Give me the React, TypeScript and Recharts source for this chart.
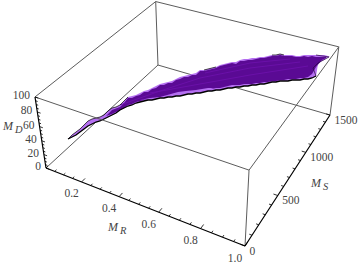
import { ComposedChart, Line, Area, XAxis, YAxis, ReferenceDot } from 'recharts';

// axis values
const mrMinor = [0, 0.05, 0.1, 0.15, 0.25, 0.3, 0.35, 0.45, 0.5, 0.55, 0.65, 0.7, 0.75, 0.85, 0.9, 0.95];
const mrMajor = [0.2, 0.4, 0.6, 0.8, 1];
const mrLabels = ['0.2', '0.4', '0.6', '0.8', '1.0'];
const msMinor = [100, 200, 300, 400, 600, 700, 800, 900, 1100, 1200, 1300, 1400];
const msMajor = [0, 500, 1000, 1500];
const msLabels = ['0', '500', '1000', '1500'];
const mdMinor = [5, 10, 15, 25, 30, 35, 45, 50, 55, 65, 70, 75, 85, 90, 95];
const mdMajor = [0, 20, 40, 60, 80, 100];
const mdLabels = ['0', '20', '40', '60', '80', '100'];

// outline of the surface as seen in the picture plane
const surfX = [68, 72, 76, 80, 84, 88, 92, 96, 100, 104, 108, 112, 116, 120, 124, 128, 132, 136, 140, 144, 148, 152, 156, 160, 164, 168, 172, 176, 180, 184, 188, 192, 196, 200, 204, 208, 212, 216, 220, 224, 228, 232, 236, 240, 244, 248, 252, 256, 260, 264, 268, 272, 276, 280, 284, 288, 292, 296, 300, 304, 308, 312, 316, 318, 320, 324, 328, 330];
const surfTop = [139, 135, 132, 129, 125, 121, 119, 118, 117, 115, 111, 108, 107, 105, 101, 97, 96, 95, 93, 91, 90, 88, 86, 84, 83, 82, 81, 79, 77, 76, 75, 74, 73, 70, 70, 69, 68, 67, 65, 64, 63, 62, 62, 60, 59, 59, 58, 58, 57, 57, 56, 55, 55, 54, 55, 55, 55, 56, 56, 55, 55, 55, 55, 55, 55, 55, 56, 56];
const surfBottom = [139, 137, 135, 132, 129, 126, 124, 122, 121, 119, 117, 115, 113, 110, 108, 106, 105, 103, 102, 101, 100, 100, 99, 98, 98, 97, 97, 96, 96, 95, 94, 94, 93, 93, 92, 91, 91, 90, 90, 89, 88, 88, 87, 87, 86, 86, 85, 85, 84, 84, 83, 82, 82, 81, 81, 81, 80, 80, 80, 79, 79, 78, 76, 64, 62, 60, 57, 56];

const darkX = [106, 112, 120, 124, 128, 132, 136, 140, 144, 148, 152, 156, 160, 164, 168, 172, 176, 180, 184, 188, 192, 196, 200, 204, 208, 212, 216, 220, 224, 228, 232, 236, 240, 244, 248, 252, 256, 260, 264, 268, 272, 276, 280, 284, 288, 292, 296, 300, 304, 308, 312, 316, 322, 326];
const darkTop = [116, 110, 107, 103, 98, 98, 96, 95, 92, 92, 89, 88, 85, 85, 83, 83, 80, 79, 77, 77, 75, 75, 71, 71, 70, 69, 68, 66, 65, 64, 63, 64, 61, 61, 60, 60, 59, 58, 58, 57, 56, 56, 55, 56, 56, 56, 57, 57, 56, 57, 56, 57, 57, 57];
const darkBottom = [116, 114, 110, 108, 105, 104, 102, 101, 100, 99, 98, 98, 97, 97, 96, 95, 93, 93, 92, 92, 92, 91, 91, 90, 89, 89, 88, 88, 87, 86, 85, 85, 85, 84, 84, 84, 83, 83, 82, 82, 81, 81, 80, 80, 79, 79, 79, 78, 78, 77, 74, 67, 60, 58];

const blotchX = [140, 150, 160, 178, 186, 196, 208, 214];
const blotchTop = [100, 98, 97, 92, 91, 90, 88, 88];
const blotchBottom = [100, 99, 98, 94, 93, 92, 90, 88];

const streakA = [[120, 105], [160, 91], [200, 78], [250, 68], [300, 62]];
const streakB = [[150, 93], [200, 84], [250, 75], [308, 66]];
const streakC = [[205, 73], [250, 63], [290, 59]];

const FONT = '"Liberation Serif", serif';
const TEXT = '#444';
const LILAC = '#b46ff0';
const PURPLE = '#5a0a94';
const STREAK = '#6a10a8';

// camera fitted to the eight corners of the box
const project = (mr: number, ms: number, md: number) => {
  const u = mr;
  const v = ms / 1500;
  const w = md / 100;
  const d = 1 - 0.1294 * u + 0.2209 * v - 0.0678 * w;
  return {
    x: (46 + 167.3 * u + 146.9 * v - 13.37 * w) / d,
    y: (168 + 46.17 * u - 88.6 * v - 77.6 * w) / d,
  };
};

const segments = (pairs: number[][][]) =>
  pairs.flatMap(([a, b]) => {
    const p = project(a[0], a[1], a[2]);
    const q = project(b[0], b[1], b[2]);
    return [p, q, { x: q.x, y: null }];
  });

const backEdges = segments([
  [[0, 0, 100], [0, 1500, 100]],
  [[0, 1500, 100], [1, 1500, 100]],
  [[0, 1500, 100], [0, 1500, 0]],
  [[0, 1500, 0], [0, 0, 0]],
  [[0, 1500, 0], [1, 1500, 0]],
  [[1, 1500, 0], [1, 1500, 100]],
]);
const frontEdges = segments([
  [[0, 0, 100], [1, 0, 100]],
  [[1, 0, 100], [1, 1500, 100]],
  [[1, 0, 100], [1, 0, 0]],
]);
const axes = segments([
  [[0, 0, 0], [0, 0, 100]],
  [[0, 0, 0], [1, 0, 0]],
  [[1, 0, 0], [1, 1500, 0]],
]);
const ticks = segments([
  ...mdMajor.map((t) => [[0, 0, t], [0.018, 0, t]]),
  ...mdMinor.map((t) => [[0, 0, t], [0.011, 0, t]]),
  ...mrMajor.map((t) => [[t, 0, 0], [t, 40, 0]]),
  ...mrMinor.map((t) => [[t, 0, 0], [t, 20, 0]]),
  ...msMajor.map((t) => [[1, t, 0], [0.98, t, 0]]),
  ...msMinor.map((t) => [[1, t, 0], [0.988, t, 0]]),
]);

const band = (xs: number[], top: number[], bottom: number[]) =>
  xs.map((x, i) => ({ x, range: [top[i], bottom[i]] }));
const path = (pts: number[][]) => pts.map(([x, y]) => ({ x, y }));

const surfaceBand = band(surfX, surfTop, surfBottom);
const lowerEdge = surfX.map((x, i) => ({ x, y: surfBottom[i] })).filter((p) => p.x <= 316);
const upperEdge = surfX.map((x, i) => ({
  x,
  y: (x <= 130 || (x >= 204 && x <= 216) || (x >= 272 && x <= 284)) ? surfTop[i] : null,
}));
const notchEdge = path([[316, 76], [313, 68], [318, 63], [329, 57], [316, 55]]);

const Txt = ({ viewBox, value, anchor }: any) => (
  <text
    x={viewBox.x}
    y={viewBox.y}
    dy="0.35em"
    textAnchor={anchor}
    fontFamily={FONT}
    fontSize={11.5}
    fill={TEXT}
  >
    {value}
  </text>
);

const Sub = ({ viewBox, sub }: any) => (
  <text x={viewBox.x} y={viewBox.y} fontFamily={FONT} fontStyle="italic" fontSize={12} fill={TEXT}>
    M<tspan dx={2} dy={3} fontSize={10.5}>{sub}</tspan>
  </text>
);

const tickLabel = (key: string, x: number, y: number, value: string, anchor: string) => (
  <ReferenceDot
    key={key}
    x={x}
    y={y}
    r={0}
    stroke="none"
    ifOverflow="visible"
    label={<Txt value={value} anchor={anchor} />}
  />
);

const title = (x: number, y: number, sub: string) => (
  <ReferenceDot
    key={sub}
    x={x}
    y={y}
    r={0}
    stroke="none"
    ifOverflow="visible"
    label={<Sub sub={sub} />}
  />
);

const edge = (name: string, data: any[], color: string, width: number, z: number) => (
  <Line
    key={name}
    data={data}
    dataKey="y"
    stroke={color}
    strokeWidth={width}
    dot={false}
    activeDot={false}
    type="linear"
    isAnimationActive={false}
    zIndex={z}
  />
);

const fill = (name: string, data: any[], color: string, z: number) => (
  <Area
    key={name}
    data={data}
    dataKey="range"
    fill={color}
    fillOpacity={1}
    stroke="none"
    dot={false}
    activeDot={false}
    type="linear"
    isAnimationActive={false}
    zIndex={z}
  />
);

export default function App() {
  return (
    <div style={{ position: 'absolute', left: 0, top: 0, width: 360, height: 265, background: '#fff' }}>
      <ComposedChart width={360} height={265} margin={{ top: 0, right: 0, bottom: 0, left: 0 }}>
        <XAxis dataKey="x" type="number" domain={[0, 360]} hide allowDataOverflow />
        <YAxis type="number" domain={[0, 265]} reversed hide allowDataOverflow />
        {edge('back', backEdges, '#5c5c5c', 1, 10)}
        {fill('surface', surfaceBand, LILAC, 20)}
        {fill('dark', band(darkX, darkTop, darkBottom), PURPLE, 21)}
        {fill('blotch', band(blotchX, blotchTop, blotchBottom), LILAC, 22)}
        {edge('streakA', path(streakA), STREAK, 1, 23)}
        {edge('streakB', path(streakB), STREAK, 1, 23)}
        {edge('streakC', path(streakC), STREAK, 1, 23)}
        {edge('lower', lowerEdge, '#000', 1.3, 30)}
        {edge('upper', upperEdge, '#000', 0.7, 30)}
        {edge('notch', notchEdge, '#2a0840', 0.7, 30)}
        {edge('front', frontEdges, '#5c5c5c', 1, 40)}
        {edge('axes', axes, '#000', 1.2, 41)}
        {edge('ticks', ticks, '#000', 0.8, 41)}
        {mdMajor.map((t, i) => {
          const p = project(0, 0, t);
          return tickLabel(`md${t}`, p.x - 5, p.y - 2, mdLabels[i], 'end');
        })}
        {mrMajor.map((t, i) => {
          const p = project(t, 0, 0);
          return tickLabel(`mr${t}`, p.x - 10, p.y + 11.5, mrLabels[i], 'middle');
        })}
        {msMajor.map((t, i) => {
          const p = project(1, t, 0);
          return tickLabel(`ms${t}`, p.x + 4.5, p.y + 4.5, msLabels[i], 'start');
        })}
        {title(3, 130, 'D')}
        {title(108, 231, 'R')}
        {title(311, 187, 'S')}
      </ComposedChart>
    </div>
  );
}
